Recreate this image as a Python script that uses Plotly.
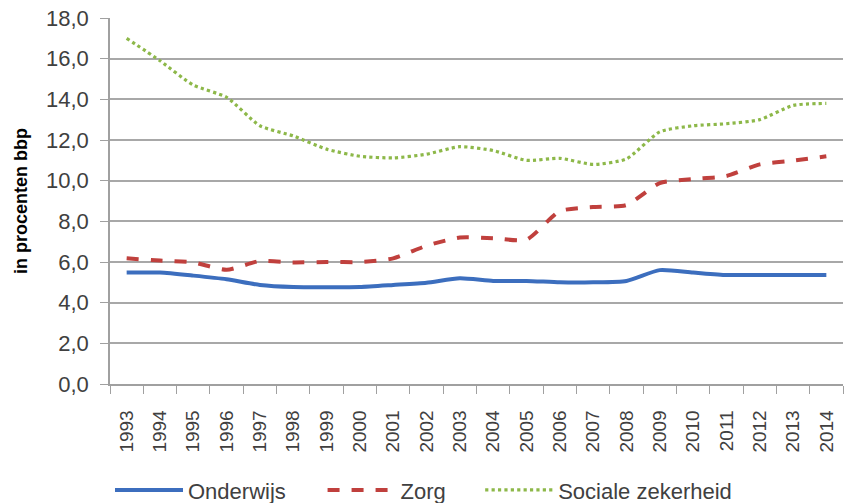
import plotly.graph_objects as go

years = [str(y) for y in range(1993, 2015)]
onderwijs = [5.48, 5.48, 5.33, 5.15, 4.87, 4.77, 4.76, 4.77, 4.87, 4.98, 5.2, 5.07,
             5.07, 5.0, 5.0, 5.07, 5.6, 5.48, 5.36, 5.36, 5.36, 5.36]
zorg = [6.18, 6.07, 5.98, 5.62, 6.05, 5.98, 6.0, 6.0, 6.18, 6.8, 7.2, 7.17,
        7.1, 8.5, 8.7, 8.8, 9.88, 10.08, 10.23, 10.8, 10.98, 11.2]
sociale = [17.0, 15.9, 14.7, 14.1, 12.7, 12.2, 11.55, 11.2, 11.12, 11.3, 11.67, 11.48,
           11.0, 11.1, 10.8, 11.07, 12.4, 12.7, 12.8, 13.0, 13.7, 13.8]

font_fam = "Liberation Sans, Arial, sans-serif"
txt = "#404040"

fig = go.Figure()
fig.add_trace(go.Scatter(x=years, y=onderwijs, name="Onderwijs", mode="lines", legend="legend",
                         line=dict(color="#3C6EBE", width=4, shape="spline", smoothing=0.6)))
fig.add_trace(go.Scatter(x=years, y=zorg, name="Zorg", mode="lines", legend="legend2",
                         line=dict(color="#C0403D", width=4, dash="dash", shape="spline", smoothing=0.6)))
fig.add_trace(go.Scatter(x=years, y=sociale, name="Sociale zekerheid", mode="lines", legend="legend3",
                         line=dict(color="#8DB849", width=3.2, dash="dot", shape="spline", smoothing=0.6)))

leg_common = dict(orientation="h", xanchor="left", y=-0.29, yanchor="middle",
                  font=dict(size=22, color=txt), itemwidth=68, bgcolor="rgba(0,0,0,0)")

# figure is taller than the window so the legend can sit low; page scrolling is disabled
fig.update_layout(
    width=847, height=525,
    margin=dict(l=110, r=4, t=18, b=141),
    paper_bgcolor="white", plot_bgcolor="white",
    separators=",.",
    font=dict(family=font_fam, size=16, color=txt),
    showlegend=True,
    legend=dict(x=0.0, **leg_common),
    legend2=dict(x=0.29, **leg_common),
    legend3=dict(x=0.505, **leg_common),
)
fig.update_xaxes(
    type="category", range=[-0.5, 21.5], tickangle=-90, automargin=False,
    showline=True, linecolor="#A0A0A0", linewidth=1.5,
    ticks="outside", tickson="boundaries", ticklen=8, tickcolor="#A0A0A0",
    ticklabelstandoff=17,
    showgrid=False, tickfont=dict(size=19, color=txt), zeroline=False,
)
fig.update_yaxes(
    range=[0, 18], dtick=2, tickformat=".1f", automargin=False,
    showline=True, linecolor="#A0A0A0", linewidth=1.5,
    ticks="outside", ticklen=8, tickcolor="#A0A0A0", ticklabelstandoff=7,
    ticklabeloverflow="allow",
    showgrid=True, gridcolor="#A8A8A8", gridwidth=1.5, zeroline=False,
    tickfont=dict(size=22, color=txt),
    title=dict(text="<b>in procenten bbp</b>", font=dict(size=18, color="#000000"), standoff=14),
)

fig.write_html("out.html", config={"displayModeBar": False},
               post_script="document.body.style.margin='0';document.body.style.overflow='hidden';"
                           "document.documentElement.style.overflow='hidden';")
